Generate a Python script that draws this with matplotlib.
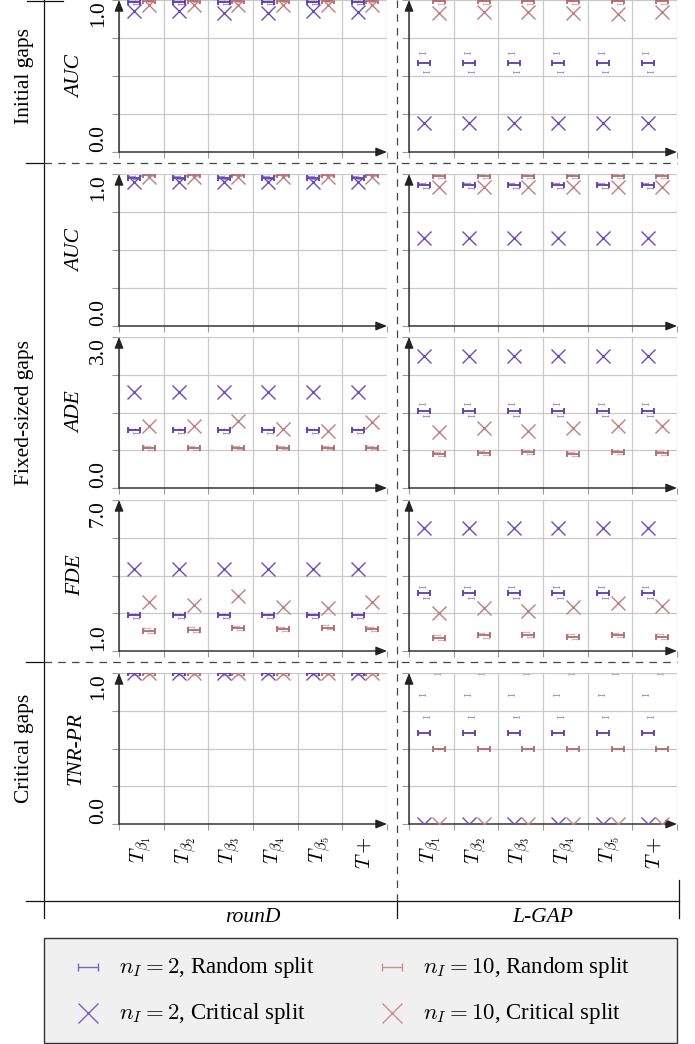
import numpy as np
import matplotlib
matplotlib.use("Agg")
import matplotlib.pyplot as plt
from matplotlib.path import Path
from matplotlib.lines import Line2D
from matplotlib.patches import Rectangle

plt.rcParams['font.family'] = ['Liberation Serif', 'DejaVu Serif']
plt.rcParams['mathtext.fontset'] = 'cm'

W, H = 695, 1044

categories = [r'$T_{\beta_1}$', r'$T_{\beta_2}$', r'$T_{\beta_3}$',
              r'$T_{\beta_4}$', r'$T_{\beta_5}$', r'$T+$']
datasets = ['rounD', 'L-GAP']
metrics = ['AUC', 'AUC', 'ADE', 'FDE', 'TNR-PR']
y_ranges = [(0.0, 1.0), (0.0, 1.0), (0.0, 3.0), (1.0, 7.0), (0.0, 1.0)]
y_ticklabels = [('0.0', '1.0'), ('0.0', '1.0'), ('0.0', '3.0'), ('1.0', '7.0'), ('0.0', '1.0')]
row_groups = [('Initial gaps', 0, 0), ('Fixed-sized gaps', 1, 3), ('Critical gaps', 4, 4)]

# one row per panel: initial AUC, fixed AUC, ADE, FDE, TNR-PR
# --- rounD ---
round_rand2 = [
    [0.985, 0.985, 0.985, 0.985, 0.985, 0.985],
    [0.976, 0.976, 0.976, 0.976, 0.976, 0.976],
    [1.15, 1.15, 1.15, 1.15, 1.15, 1.15],
    [2.42, 2.42, 2.42, 2.42, 2.42, 2.42],
    [1.0, 1.0, 1.0, 1.0, 1.0, 1.0],
]
round_rand2_hi = [
    [0.995, 0.995, 0.995, 0.995, 0.995, 0.995],
    [0.985, 0.985, 0.985, 0.985, 0.985, 0.985],
    [1.18, 1.18, 1.18, 1.18, 1.18, 1.18],
    [2.47, 2.47, 2.47, 2.47, 2.47, 2.47],
    [1.0, 1.0, 1.0, 1.0, 1.0, 1.0],
]
round_rand2_lo = [
    [0.975, 0.975, 0.975, 0.975, 0.975, 0.975],
    [0.965, 0.965, 0.965, 0.965, 0.965, 0.965],
    [1.10, 1.10, 1.10, 1.10, 1.10, 1.10],
    [2.30, 2.30, 2.30, 2.30, 2.30, 2.30],
    [0.99, 0.99, 0.99, 0.99, 0.99, 0.99],
]
round_crit2 = [
    [0.93, 0.93, 0.917, 0.912, 0.93, 0.92],
    [0.945, 0.945, 0.945, 0.945, 0.945, 0.945],
    [1.91, 1.91, 1.91, 1.91, 1.91, 1.91],
    [4.25, 4.25, 4.25, 4.25, 4.25, 4.25],
    [1.0, 1.0, 1.0, 1.0, 1.0, 1.0],
]
round_rand10 = [
    [0.995, 0.995, 0.995, 0.995, 0.995, 0.995],
    [0.993, 0.993, 0.993, 0.993, 0.993, 0.993],
    [0.79, 0.79, 0.80, 0.80, 0.80, 0.80],
    [1.81, 1.83, 1.90, 1.86, 1.93, 1.87],
    [1.0, 1.0, 1.0, 1.0, 1.0, 1.0],
]
round_rand10_hi = [
    [1.0, 1.0, 1.0, 1.0, 1.0, 1.0],
    [1.0, 1.0, 1.0, 1.0, 1.0, 1.0],
    [0.83, 0.83, 0.84, 0.84, 0.84, 0.84],
    [1.92, 1.94, 2.00, 1.97, 2.02, 1.97],
    [1.0, 1.0, 1.0, 1.0, 1.0, 1.0],
]
round_rand10_lo = [
    [0.985, 0.985, 0.985, 0.985, 0.985, 0.985],
    [0.985, 0.985, 0.985, 0.985, 0.985, 0.985],
    [0.75, 0.75, 0.77, 0.77, 0.77, 0.77],
    [1.72, 1.74, 1.82, 1.78, 1.86, 1.79],
    [0.99, 0.99, 0.99, 0.99, 0.99, 0.99],
]
round_crit10 = [
    [0.967, 0.967, 0.967, 0.967, 0.967, 0.967],
    [0.98, 0.98, 0.98, 0.98, 0.98, 0.98],
    [1.24, 1.23, 1.34, 1.17, 1.14, 1.31],
    [2.94, 2.83, 3.19, 2.76, 2.72, 2.96],
    [1.0, 1.0, 1.0, 1.0, 1.0, 1.0],
]

# --- L-GAP ---
lgap_rand2 = [
    [0.583, 0.583, 0.583, 0.583, 0.583, 0.583],
    [0.928, 0.928, 0.928, 0.928, 0.928, 0.928],
    [1.535, 1.535, 1.535, 1.535, 1.535, 1.535],
    [3.29, 3.29, 3.29, 3.29, 3.29, 3.29],
    [0.60, 0.60, 0.60, 0.60, 0.60, 0.60],
]
lgap_rand2_hi = [
    [0.653, 0.653, 0.653, 0.653, 0.653, 0.653],
    [0.94, 0.94, 0.94, 0.94, 0.94, 0.94],
    [1.667, 1.667, 1.667, 1.667, 1.667, 1.667],
    [3.53, 3.53, 3.53, 3.53, 3.53, 3.53],
    [0.855, 0.855, 0.855, 0.855, 0.855, 0.855],
]
lgap_rand2_lo = [
    [0.526, 0.526, 0.526, 0.526, 0.526, 0.526],
    [0.906, 0.906, 0.906, 0.906, 0.906, 0.906],
    [1.436, 1.436, 1.436, 1.436, 1.436, 1.436],
    [3.09, 3.09, 3.09, 3.09, 3.09, 3.09],
    [0.71, 0.71, 0.71, 0.71, 0.71, 0.71],
]
lgap_crit2 = [
    [0.19, 0.19, 0.19, 0.19, 0.19, 0.19],
    [0.577, 0.577, 0.577, 0.577, 0.577, 0.577],
    [2.62, 2.62, 2.62, 2.62, 2.62, 2.62],
    [5.87, 5.87, 5.87, 5.87, 5.87, 5.87],
    [0.0, 0.0, 0.0, 0.0, 0.0, 0.0],
]
lgap_rand10 = [
    [0.993, 0.993, 0.993, 0.993, 0.993, 0.993],
    [0.99, 0.99, 0.99, 0.99, 0.99, 0.99],
    [0.672, 0.704, 0.712, 0.678, 0.712, 0.692],
    [1.53, 1.62, 1.64, 1.57, 1.62, 1.57],
    [0.497, 0.497, 0.497, 0.497, 0.497, 0.497],
]
lgap_rand10_hi = [
    [1.0, 1.0, 1.0, 1.0, 1.0, 1.0],
    [1.0, 1.0, 1.0, 1.0, 1.0, 1.0],
    [0.71, 0.745, 0.755, 0.715, 0.75, 0.73],
    [1.63, 1.72, 1.74, 1.67, 1.70, 1.66],
    [0.993, 0.993, 0.993, 0.993, 0.993, 0.993],
]
lgap_rand10_lo = [
    [0.975, 0.975, 0.975, 0.975, 0.975, 0.975],
    [0.975, 0.975, 0.975, 0.975, 0.975, 0.975],
    [0.635, 0.665, 0.67, 0.64, 0.675, 0.655],
    [1.45, 1.53, 1.55, 1.49, 1.55, 1.49],
    [0.497, 0.497, 0.497, 0.497, 0.497, 0.497],
]
lgap_crit10 = [
    [0.917, 0.923, 0.923, 0.912, 0.908, 0.923],
    [0.917, 0.917, 0.917, 0.917, 0.917, 0.917],
    [1.12, 1.19, 1.14, 1.20, 1.24, 1.23],
    [2.52, 2.70, 2.59, 2.74, 2.90, 2.80],
    [0.0, 0.0, 0.0, 0.0, 0.0, 0.0],
]

PURPLE = '#6a4cbf'
PURPLE_DARK = '#5a3ca8'
RED = '#bf7f82'
RED_DARK = '#b06a6e'
GRID = '#c9c9c9'

# |-| marker
bar_marker = Path([(-1, 0), (1, 0), (-1, -0.42), (-1, 0.42), (1, -0.42), (1, 0.42)],
                  [Path.MOVETO, Path.LINETO, Path.MOVETO, Path.LINETO, Path.MOVETO, Path.LINETO])

rows_px = [(0, 152), (174, 326), (337, 488), (500, 651), (673, 824)]
cols_px = [(119, 387), (409, 677)]

fig = plt.figure(figsize=(W / 100, H / 100), dpi=100)


def fx(px):
    return px / W


def fy(py):
    return 1 - py / H


def draw_panel(ax, r, c, rand2, r2hi, r2lo, crit2, rand10, r10hi, r10lo, crit10):
    lo, hi = y_ranges[r]
    x = np.arange(len(categories))
    x2 = x - 0.16
    x10 = x + 0.17

    ax.set_xlim(-0.5, len(categories) - 0.5)
    ax.set_ylim(lo, hi)
    for s in ax.spines.values():
        s.set_visible(False)

    ax.set_xticks(np.arange(len(categories) + 1) - 0.5)
    ax.set_xticklabels([])
    ax.set_xticks(x, minor=True)
    ax.tick_params(axis='x', which='major', length=4, color='#999999', width=0.8)
    ax.tick_params(axis='x', which='minor', length=0, pad=9)
    if r == len(metrics) - 1:
        ax.set_xticklabels(categories, minor=True, rotation=90, fontsize=15)
    else:
        ax.set_xticklabels([], minor=True)

    yt = np.linspace(lo, hi, 5)
    ax.set_yticks(yt)
    ax.tick_params(axis='y', length=5, color='#999999', width=0.8, pad=3)
    if c == 0:
        ax.set_yticklabels([y_ticklabels[r][0], '', '', '', y_ticklabels[r][1]], fontsize=15.5)
        labs = ax.get_yticklabels()
        for lab in labs:
            lab.set_rotation(90)
        labs[0].set_verticalalignment('bottom')
        labs[-1].set_verticalalignment('top')
    else:
        ax.set_yticklabels([])

    ax.grid(True, which='major', color=GRID, lw=0.9)
    ax.set_axisbelow(True)

    # error end marks (faint)
    ax.plot(x2 - 0.05, r2hi, ls='none', marker=bar_marker, ms=4.3, mew=0.8,
            color=PURPLE, mfc='none', alpha=0.6, zorder=3)
    ax.plot(x2 + 0.05, r2lo, ls='none', marker=bar_marker, ms=4.3, mew=0.8,
            color=PURPLE, mfc='none', alpha=0.6, zorder=3)
    ax.plot(x10 - 0.05, r10hi, ls='none', marker=bar_marker, ms=4.3, mew=0.8,
            color=RED, mfc='none', alpha=0.6, zorder=3)
    ax.plot(x10 + 0.05, r10lo, ls='none', marker=bar_marker, ms=4.3, mew=0.8,
            color=RED, mfc='none', alpha=0.6, zorder=3)

    ax.plot(x2, rand2, ls='none', marker=bar_marker, ms=8.8, mew=1.3,
            color=PURPLE_DARK, mfc='none', zorder=4)
    ax.plot(x10, rand10, ls='none', marker=bar_marker, ms=8.8, mew=1.3,
            color=RED_DARK, mfc='none', zorder=4)
    ax.plot(x2, crit2, ls='none', marker='x', ms=9.5, mew=1.0, color=PURPLE, zorder=4)
    ax.plot(x10, crit10, ls='none', marker='x', ms=9.5, mew=1.0, color=RED, zorder=4)

    arrow = dict(arrowstyle='-|>,head_length=0.55,head_width=0.22', lw=1.0,
                 color='#222222', shrinkA=0, shrinkB=0, mutation_scale=12)
    ax.annotate('', xy=(0, 1), xytext=(0, 0), xycoords='axes fraction', arrowprops=arrow)
    ax.annotate('', xy=(1, 0), xytext=(0, 0), xycoords='axes fraction', arrowprops=arrow)


series_by_col = [
    (round_rand2, round_rand2_hi, round_rand2_lo, round_crit2,
     round_rand10, round_rand10_hi, round_rand10_lo, round_crit10),
    (lgap_rand2, lgap_rand2_hi, lgap_rand2_lo, lgap_crit2,
     lgap_rand10, lgap_rand10_hi, lgap_rand10_lo, lgap_crit10),
]

for r, (y0, y1) in enumerate(rows_px):
    for c, (x0, x1) in enumerate(cols_px):
        ax = fig.add_axes([fx(x0), fy(y1), (x1 - x0) / W, (y1 - y0) / H])
        s = series_by_col[c]
        draw_panel(ax, r, c, *[lst[r] for lst in s])
    # metric label
    fig.text(fx(76), fy((y0 + y1) / 2), metrics[r], rotation=90, style='italic',
             ha='center', va='center', fontsize=15.5)

# row group labels
for name, r0, r1 in row_groups:
    yc = (rows_px[r0][0] + rows_px[r1][1]) / 2
    fig.text(fx(25), fy(yc), name, rotation=90, ha='center', va='center', fontsize=15.5)

# dataset labels
for c, name in enumerate(datasets):
    xc = (cols_px[c][0] + cols_px[c][1]) / 2
    fig.text(fx(xc), fy(918), name, style='italic', ha='center', va='center', fontsize=15.5)


def fline(xs, ys, **kw):
    fig.add_artist(Line2D([fx(v) for v in xs], [fy(v) for v in ys],
                          transform=fig.transFigure, **kw))


solid = dict(color='#111111', lw=0.9)
dashed = dict(color='#444444', lw=0.9, ls=(0, (6, 5)))
fline([44, 44], [0, 918], **solid)
fline([27, 63], [0.5, 0.5], **solid)
for yy in (163, 662):
    fline([26, 44], [yy, yy], **solid)
    fline([44, 677], [yy, yy], **dashed)
fline([397, 397], [0, 901], **dashed)
fline([397, 397], [901, 918], **solid)
fline([26, 679], [901, 901], **solid)
fline([679, 679], [880, 918], **solid)

# legend box
fig.add_artist(Rectangle((fx(44), fy(1043)), 633 / W, 105 / H, transform=fig.transFigure,
                         facecolor='#f0f0f0', edgecolor='#333333', lw=1.0, zorder=0))
legend_items = [
    (88, 967, bar_marker, '#7a62c8', r'$n_I = 2$, Random split'),
    (88, 1013, 'x', '#7a62c8', r'$n_I = 2$, Critical split'),
    (392, 967, bar_marker, '#c89090', r'$n_I = 10$, Random split'),
    (392, 1013, 'x', '#c89090', r'$n_I = 10$, Critical split'),
]
for lx, ly, mk, col, label in legend_items:
    ms = 14.5 if mk == 'x' else 15
    fig.add_artist(Line2D([fx(lx)], [fy(ly)], marker=mk, ms=ms, mew=1.0, color=col,
                          mfc='none', ls='none', transform=fig.transFigure))
    fig.text(fx(lx + 31), fy(ly), label, ha='left', va='center', fontsize=16.5)

fig.savefig('out.png', dpi=100)
